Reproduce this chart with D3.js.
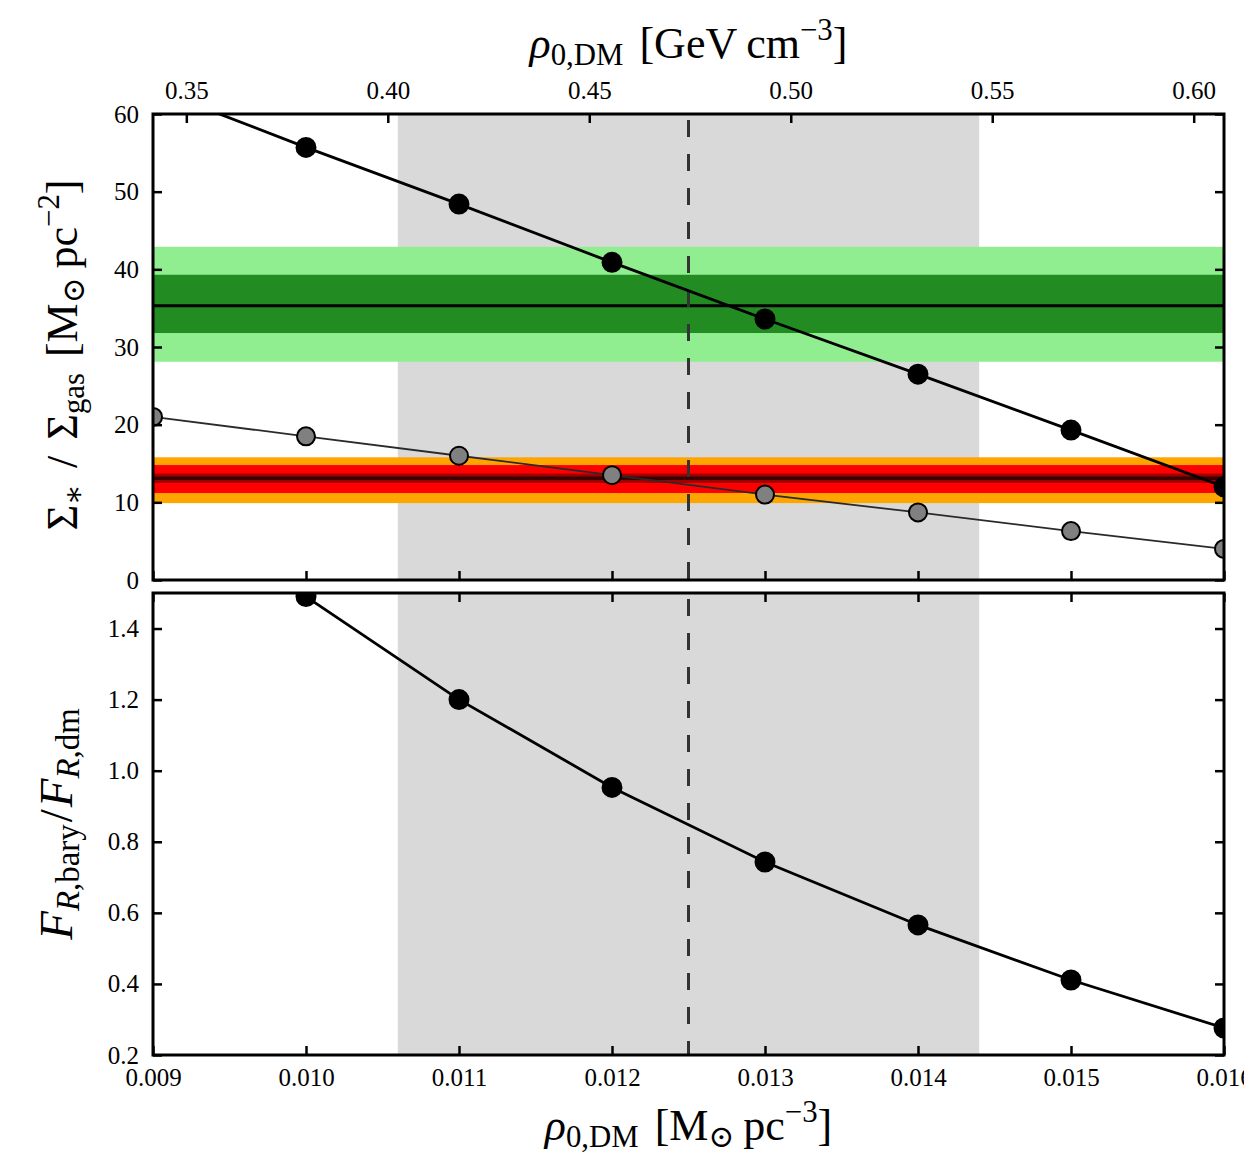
<!DOCTYPE html>
<html>
<head>
    <meta charset="utf-8" />
    <title>rho DM vs surface density and radial force ratio</title>
    <script src="https://cdn.jsdelivr.net/npm/d3@7"></script>
    <style>
        body { margin: 0; background: #fff; }
        svg text { font-family: "Liberation Serif", "DejaVu Serif", serif; fill: #000; }
        .tick line { stroke: #000; stroke-width: 2.5; }
        .tick text { font-size: 25px; }
    </style>
</head>
<body>
    <svg id="CHART" width="1244" height="1158"></svg>
    <script>
        // local dark matter density, M_sun pc^-3
        var rhoDM = [0.009, 0.010, 0.011, 0.012, 0.013, 0.014, 0.015, 0.016];
        // predicted stellar and gas surface densities, M_sun pc^-2
        var sigmaStar = [63.3, 55.7, 48.4, 40.9, 33.6, 26.5, 19.3, 12.0];
        var sigmaGas = [21.0, 18.5, 16.0, 13.5, 11.0, 8.7, 6.3, 4.0];
        // ratio of baryonic to dark matter radial force
        var forceRatio = [1.86, 1.49, 1.20, 0.953, 0.743, 0.566, 0.411, 0.276];

        // preferred rho range and best value
        var rhoRange = [0.0106, 0.0144];
        var rhoBest = 0.0125;
        // observed values: [2sig lo, 1sig lo, mean, 1sig hi, 2sig hi]
        var starObs = [28.1, 31.8, 35.3, 39.3, 42.9];
        var gasObs = [9.9, 11.2, 13.1, 14.8, 15.8];

        var xTicks = [0.009, 0.010, 0.011, 0.012, 0.013, 0.014, 0.015, 0.016];
        var gevTicks = [0.35, 0.40, 0.45, 0.50, 0.55, 0.60];
        var sigmaTicks = [0, 10, 20, 30, 40, 50, 60];
        var ratioTicks = [0.2, 0.4, 0.6, 0.8, 1.0, 1.2, 1.4];
        var GEV_PER_MSUN = 37.97;

        var L = 153, R = 1224;
        var P1 = { top: 114, bottom: 580 };
        var P2 = { top: 593, bottom: 1055 };

        var svg = d3.select("#CHART");

        var x = d3.scaleLinear().domain([0.009, 0.016]).range([L, R]);
        var xGev = d3.scaleLinear().domain([0.009 * GEV_PER_MSUN, 0.016 * GEV_PER_MSUN]).range([L, R]);
        var y1 = d3.scaleLinear().domain([0, 60]).range([P1.bottom, P1.top]);
        var y2 = d3.scaleLinear().domain([0.2, 1.5]).range([P2.bottom, P2.top]);

        var defs = svg.append("defs");
        [["clip1", P1], ["clip2", P2]].forEach(function (c) {
            defs.append("clipPath").attr("id", c[0])
                .append("rect")
                .attr("x", L).attr("y", c[1].top)
                .attr("width", R - L).attr("height", c[1].bottom - c[1].top);
        });

        var g1 = svg.append("g").attr("clip-path", "url(#clip1)");
        var g2 = svg.append("g").attr("clip-path", "url(#clip2)");

        // grey range, both panels
        [[g1, P1], [g2, P2]].forEach(function (p) {
            p[0].append("rect")
                .attr("x", x(rhoRange[0])).attr("y", p[1].top)
                .attr("width", x(rhoRange[1]) - x(rhoRange[0]))
                .attr("height", p[1].bottom - p[1].top)
                .attr("fill", "#d9d9d9");
        });

        function hBand(g, lo, hi, color) {
            g.append("rect")
                .attr("x", L).attr("width", R - L)
                .attr("y", y1(hi)).attr("height", y1(lo) - y1(hi))
                .attr("fill", color);
        }
        function hLine(g, v, color, w) {
            g.append("line")
                .attr("x1", L).attr("x2", R)
                .attr("y1", y1(v)).attr("y2", y1(v))
                .attr("stroke", color).attr("stroke-width", w);
        }

        hBand(g1, starObs[0], starObs[4], "#90ee90");
        hBand(g1, starObs[1], starObs[3], "#228b22");
        hLine(g1, starObs[2], "#000", 3);

        hBand(g1, gasObs[0], gasObs[4], "#ffa500");
        hBand(g1, gasObs[1], gasObs[3], "#ff0000");
        hBand(g1, gasObs[2] - 0.6, gasObs[2] + 0.6, "#a00000");
        hLine(g1, gasObs[2], "#3a0000", 3.5);

        // best value, dashed
        [[g1, P1], [g2, P2]].forEach(function (p) {
            p[0].append("line")
                .attr("x1", x(rhoBest)).attr("x2", x(rhoBest))
                .attr("y1", p[1].top).attr("y2", p[1].bottom)
                .attr("stroke", "#333").attr("stroke-width", 3)
                .attr("stroke-dasharray", "17,17")
                .attr("stroke-dashoffset", -6);
        });

        function series(g, ys, yScale, lineColor, lineW, fill, r) {
            var pts = rhoDM.map(function (d, i) { return [d, ys[i]]; });
            var line = d3.line()
                .x(function (d) { return x(d[0]); })
                .y(function (d) { return yScale(d[1]); });
            g.append("path").datum(pts)
                .attr("d", line)
                .attr("fill", "none")
                .attr("stroke", lineColor)
                .attr("stroke-width", lineW);
            g.append("g").selectAll("circle").data(pts).enter()
                .append("circle")
                .attr("cx", function (d) { return x(d[0]); })
                .attr("cy", function (d) { return yScale(d[1]); })
                .attr("r", r)
                .attr("fill", fill)
                .attr("stroke", "#000")
                .attr("stroke-width", 2);
        }

        series(g1, sigmaStar, y1, "#000", 2.8, "#000", 9.5);
        series(g1, sigmaGas, y1, "#2a2a2a", 1.8, "#808080", 9);
        series(g2, forceRatio, y2, "#000", 2.8, "#000", 9.5);

        // frames
        [P1, P2].forEach(function (p) {
            svg.append("rect")
                .attr("x", L).attr("y", p.top)
                .attr("width", R - L).attr("height", p.bottom - p.top)
                .attr("fill", "none").attr("stroke", "#000").attr("stroke-width", 3);
        });

        // axes, ticks pointing inward
        function ax(axis, tr, pad) {
            var a = svg.append("g").attr("transform", tr)
                .call(axis.tickSizeInner(-9).tickSizeOuter(0).tickPadding(pad));
            a.select(".domain").remove();
            return a;
        }
        var blank = function () { return ""; };

        ax(d3.axisLeft(y1).tickValues(sigmaTicks).tickFormat(d3.format("d")), "translate(" + L + ",0)", 14);
        ax(d3.axisRight(y1).tickValues(sigmaTicks).tickFormat(blank), "translate(" + R + ",0)", 0);
        ax(d3.axisBottom(x).tickValues(xTicks).tickFormat(blank), "translate(0," + P1.bottom + ")", 0);
        ax(d3.axisTop(xGev).tickValues(gevTicks).tickFormat(d3.format(".2f")), "translate(0," + P1.top + ")", 15);

        ax(d3.axisLeft(y2).tickValues(ratioTicks).tickFormat(d3.format(".1f")), "translate(" + L + ",0)", 14);
        ax(d3.axisRight(y2).tickValues(ratioTicks).tickFormat(blank), "translate(" + R + ",0)", 0);
        ax(d3.axisTop(x).tickValues(xTicks).tickFormat(blank), "translate(0," + P2.top + ")", 0);
        ax(d3.axisBottom(x).tickValues(xTicks).tickFormat(d3.format(".3f")), "translate(0," + P2.bottom + ")", 13);

        // axis titles with sub/superscripts
        function mathText(t, parts, size) {
            var cur = 0;
            parts.forEach(function (p) {
                var ts = t.append("tspan").text(p.t);
                var small = p.sub || p.sup;
                ts.attr("font-size", small ? size * 0.7 : size);
                if (p.it) ts.attr("font-style", "italic");
                var shift = p.sub ? size * 0.15 : (p.sup ? -size * 0.42 : 0);
                ts.attr("dy", shift - cur);
                if (p.dx) ts.attr("dx", p.dx);
                cur = shift;
            });
        }

        var FS = 44;
        mathText(svg.append("text").attr("x", (L + R) / 2).attr("y", 58).attr("text-anchor", "middle"), [
            { t: "\u03C1", it: true }, { t: "0,DM", sub: true },
            { t: "[", dx: 16 }, { t: "GeV" }, { t: "cm", dx: 9 }, { t: "\u22123", sup: true }, { t: "]" }
        ], FS);

        mathText(svg.append("text").attr("x", (L + R) / 2).attr("y", 1140).attr("text-anchor", "middle"), [
            { t: "\u03C1", it: true }, { t: "0,DM", sub: true },
            { t: "[", dx: 16 }, { t: "M" }, { t: "\u2299", sub: true }, { t: "pc", dx: 9 }, { t: "\u22123", sup: true }, { t: "]" }
        ], FS);

        mathText(svg.append("text")
            .attr("transform", "translate(77," + ((P1.top + P1.bottom) / 2 + 8) + ") rotate(-90)")
            .attr("text-anchor", "middle"), [
            { t: "\u03A3" }, { t: "\u2217", sub: true }, { t: "/", dx: 16 }, { t: "\u03A3", dx: 16 }, { t: "gas", sub: true },
            { t: "[", dx: 16 }, { t: "M" }, { t: "\u2299", sub: true }, { t: "pc", dx: 9 }, { t: "\u22122", sup: true }, { t: "]" }
        ], FS);

        mathText(svg.append("text")
            .attr("transform", "translate(72," + (P2.top + P2.bottom) / 2 + ") rotate(-90)")
            .attr("text-anchor", "middle"), [
            { t: "F", it: true }, { t: "R", sub: true, it: true }, { t: ",bary", sub: true },
            { t: "/", dx: 2 }, { t: "F", it: true, dx: 2 }, { t: "R", sub: true, it: true }, { t: ",dm", sub: true }
        ], 47);
    </script>
</body>
</html>
